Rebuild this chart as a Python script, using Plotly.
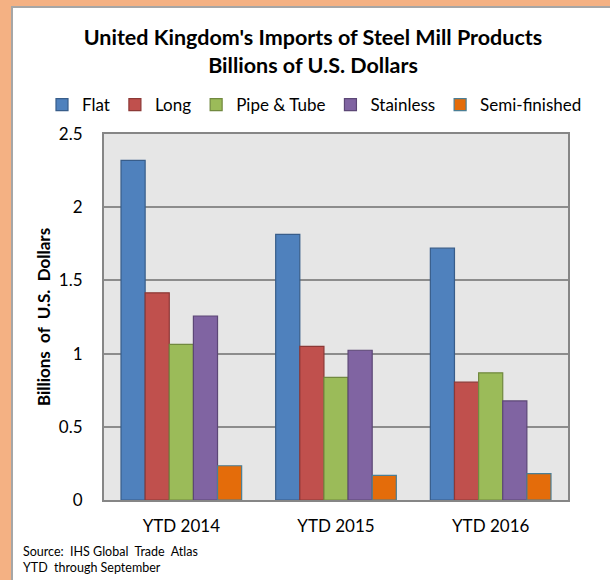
import plotly.graph_objects as go

categories = ["YTD 2014", "YTD 2015", "YTD 2016"]
series_names = ["Flat", "Long", "Pipe & Tube", "Stainless", "Semi-finished"]
flat = [2.32, 1.815, 1.72]
long_ = [1.415, 1.05, 0.805]
pipe = [1.063, 0.837, 0.869]
stainless = [1.257, 1.023, 0.677]
semi = [0.234, 0.168, 0.18]
y_ticks = [0, 0.5, 1, 1.5, 2, 2.5]

series_values = [flat, long_, pipe, stainless, semi]
fill_colors = ["#4F81BD", "#C0504D", "#9BBB59", "#8064A2", "#E46C0A"]
line_colors = ["#385D8A", "#8C3836", "#71893F", "#5C4776", "#4A7E95"]

W, H = 610, 580
ML, MR, MT, MB = 104, 42, 134, 80
PW = W - ML - MR
PH = H - MT - MB

def px_x(px):
    return (px - ML) / PW

def px_y(py):
    return (H - MB - py) / PH

fig = go.Figure()
for name, vals, fc, lc in zip(series_names, series_values, fill_colors, line_colors):
    fig.add_trace(go.Bar(
        name=name, x=categories, y=vals,
        marker=dict(color=fc, line=dict(color=lc, width=1.2)),
    ))

font_family = "Lato, 'Open Sans', sans-serif"

shapes = [
    dict(type="rect", xref="paper", yref="paper", x0=px_x(0), x1=px_x(11), y0=px_y(H), y1=px_y(0),
         fillcolor="#F4B183", line=dict(width=0), layer="below"),
    dict(type="rect", xref="paper", yref="paper", x0=px_x(0), x1=px_x(W), y0=px_y(6), y1=px_y(0),
         fillcolor="#F4B183", line=dict(width=0), layer="below"),
    dict(type="rect", xref="paper", yref="paper", x0=px_x(11), x1=px_x(13), y0=px_y(H), y1=px_y(6),
         fillcolor="#A6A6A6", line=dict(width=0), layer="below"),
    dict(type="rect", xref="paper", yref="paper", x0=px_x(11), x1=px_x(W), y0=px_y(8), y1=px_y(6),
         fillcolor="#A6A6A6", line=dict(width=0), layer="below"),
]

fig.update_layout(
    width=W, height=H,
    margin=dict(l=ML, r=MR, t=MT, b=MB, pad=0),
    paper_bgcolor="white",
    plot_bgcolor="#E6E6E6",
    font=dict(family=font_family, color="black"),
    title=dict(
        text="<b>United Kingdom's Imports of Steel Mill Products</b><br><b>Billions of U.S. Dollars</b>",
        x=313 / W, xanchor="center", xref="container",
        y=1 - 45 / H, yanchor="top", yref="container",
        font=dict(size=21.5, family=font_family, color="black"),
    ),
    barmode="group",
    bargap=0.22,
    bargroupgap=0.0,
    legend=dict(
        orientation="h", x=px_x(42), xanchor="left", y=px_y(105), yanchor="middle",
        font=dict(size=17, family=font_family, color="black"),
        bgcolor="rgba(0,0,0,0)", itemwidth=30, traceorder="normal",
    ),
    xaxis=dict(
        showgrid=False, showline=True, linecolor="#868686", linewidth=2, mirror=True,
        ticks="", tickfont=dict(size=17, family=font_family, color="black"),
        ticklabelstandoff=10,
    ),
    yaxis=dict(
        range=[0, 2.5], tickvals=y_ticks,
        showgrid=True, gridcolor="#8C8C8C", gridwidth=1.5,
        showline=True, linecolor="#868686", linewidth=2, mirror=True,
        zeroline=False, ticks="",
        tickfont=dict(size=17, family=font_family, color="black"),
        ticklabelstandoff=16,
        title=dict(text="<b>Billions\u00a0 of\u00a0 U.S.\u00a0 Dollars</b>",
                   font=dict(size=17, family=font_family, color="black"),
                   standoff=4),
    ),
    shapes=shapes,
    annotations=[
        dict(text="Source:\u00a0 IHS Global\u00a0 Trade\u00a0 Atlas<br>YTD\u00a0 through September",
             xref="paper", yref="paper", x=px_x(21), y=px_y(542), xanchor="left", yanchor="top",
             align="left", showarrow=False, font=dict(size=12.5, family=font_family, color="black")),
    ],
)

fig.write_html("out.html", config={"displayModeBar": False},
               post_script="document.body.style.margin='0px';")
